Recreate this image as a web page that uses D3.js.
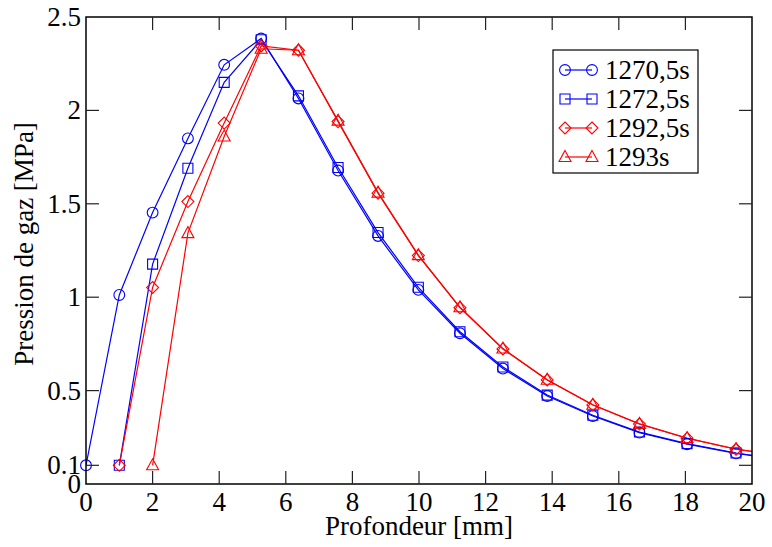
<!DOCTYPE html>
<html><head><meta charset="utf-8">
<script src="https://cdn.jsdelivr.net/npm/d3@7"></script>
<style>body{margin:0;background:#fff}svg{display:block}</style>
</head><body>
<script>
// Depth positions (mm)
const depth = [0, 1, 2, 3.06, 4.15, 5.26, 6.38, 7.57, 8.77, 9.98, 11.23, 12.52, 13.85, 15.22, 16.62, 18.05, 19.52, 20.95];
const seriesNames = ["1270,5s", "1272,5s", "1292,5s", "1293s"];
const p1270 = [0.1, 1.012, 1.453, 1.85, 2.244, 2.385, 2.064, 1.678, 1.328, 1.039, 0.807, 0.618, 0.471, 0.364, 0.275, 0.213, 0.164, 0.128];
const p1272 = [null, 0.1, 1.177, 1.69, 2.15, 2.378, 2.078, 1.694, 1.346, 1.053, 0.815, 0.626, 0.476, 0.368, 0.278, 0.216, 0.166, 0.13];
const p1292 = [null, 0.1, 1.052, 1.512, 1.932, 2.345, 2.322, 1.94, 1.557, 1.223, 0.944, 0.723, 0.557, 0.423, 0.321, 0.245, 0.186, 0.15];
const p1293 = [null, null, 0.1, 1.343, 1.86, 2.33, 2.322, 1.945, 1.56, 1.225, 0.946, 0.725, 0.558, 0.424, 0.322, 0.246, 0.187, 0.151];
const xTicks = [0, 2, 4, 6, 8, 10, 12, 14, 16, 18, 20];
const yTicks = [0, 0.1, 0.5, 1, 1.5, 2, 2.5];
const yTickLabels = ["0", "0.1", "0.5", "1", "1.5", "2", "2.5"];
const colors = ["#0000ff", "#0000ff", "#ff0000", "#ff0000"];
const shapes = ["circle", "square", "diamond", "triangle"];

const W = 772, H = 547;
const m = {l: 86, r: 20, t: 17, b: 63};
const svg = d3.select("body").append("svg").attr("width", W).attr("height", H);
const x = d3.scaleLinear().domain([0, 20]).range([m.l, W - m.r]);
const y = d3.scaleLinear().domain([0, 2.5]).range([H - m.b, m.t]);
const font = "'Times New Roman', 'Liberation Serif', Times, serif";

svg.append("defs").append("clipPath").attr("id", "clip")
  .append("rect").attr("x", x(0)).attr("y", y(2.5)).attr("width", x(20) - x(0)).attr("height", y(0) - y(2.5));

function marker(g, shape, cx, cy, color) {
  const s = g.append("path").attr("fill", "none").attr("stroke", color).attr("stroke-width", 1.1);
  let d;
  if (shape === "circle") d = d3.symbol(d3.symbolCircle, Math.PI * 5.4 * 5.4)();
  else if (shape === "square") d = d3.symbol(d3.symbolSquare, 10 * 10)();
  else if (shape === "diamond") d = "M0,-6L6,0L0,6L-6,0Z";
  else d = "M0,-6.5L6,4.5L-6,4.5Z";
  s.attr("d", d).attr("transform", `translate(${cx},${cy})`);
}

const plot = svg.append("g").attr("clip-path", "url(#clip)");
const allSeries = [p1270, p1272, p1292, p1293];
const line = d3.line().defined(d => d[1] != null).x(d => x(d[0])).y(d => y(d[1]));
allSeries.forEach((vals, i) => {
  const pts = depth.map((dx, j) => [dx, vals[j]]).filter(d => d[1] != null);
  plot.append("path").datum(pts).attr("d", line).attr("fill", "none")
    .attr("stroke", colors[i]).attr("stroke-width", 1.2);
});
allSeries.forEach((vals, i) => {
  depth.forEach((dx, j) => {
    if (vals[j] != null && dx <= 20) marker(svg, shapes[i], x(dx), y(vals[j]), colors[i]);
  });
});

// Frame
svg.append("rect").attr("x", x(0)).attr("y", y(2.5)).attr("width", x(20) - x(0)).attr("height", y(0) - y(2.5))
  .attr("fill", "none").attr("stroke", "#000").attr("stroke-width", 1.5);

// Ticks (inward)
const tl = 13;
const tg = svg.append("g").attr("stroke", "#222").attr("stroke-width", 1.2);
xTicks.filter(t => t > 0 && t < 20).forEach(t => {
  tg.append("line").attr("x1", x(t)).attr("x2", x(t)).attr("y1", y(0)).attr("y2", y(0) - tl);
  tg.append("line").attr("x1", x(t)).attr("x2", x(t)).attr("y1", y(2.5)).attr("y2", y(2.5) + tl);
});
yTicks.filter(t => t > 0 && t < 2.5).forEach(t => {
  tg.append("line").attr("x1", x(0)).attr("x2", x(0) + tl).attr("y1", y(t)).attr("y2", y(t));
  tg.append("line").attr("x1", x(20)).attr("x2", x(20) - tl).attr("y1", y(t)).attr("y2", y(t));
});

// Tick labels
const fs = 27;
xTicks.forEach(t => {
  svg.append("text").attr("x", x(t)).attr("y", y(0) + 27).attr("text-anchor", "middle")
    .attr("font-family", font).attr("font-size", fs).text(t);
});
yTicks.forEach((t, i) => {
  svg.append("text").attr("x", x(0) - 5).attr("y", y(t) + 9).attr("text-anchor", "end")
    .attr("font-family", font).attr("font-size", fs).text(yTickLabels[i]);
});

// Axis titles
svg.append("text").attr("x", (x(0) + x(20)) / 2).attr("y", 535).attr("text-anchor", "middle")
  .attr("font-family", font).attr("font-size", 27).text("Profondeur [mm]");
svg.append("text").attr("transform", `translate(33,244) rotate(-90)`).attr("text-anchor", "middle")
  .attr("font-family", font).attr("font-size", 27).text("Pression de gaz [MPa]");

// Legend
const lg = svg.append("g");
lg.append("rect").attr("x", 553).attr("y", 50).attr("width", 145).attr("height", 123)
  .attr("fill", "#fff").attr("stroke", "#000").attr("stroke-width", 1.2);
seriesNames.forEach((nm, i) => {
  const cy = 70 + i * 29;
  lg.append("line").attr("x1", 565).attr("x2", 592).attr("y1", cy).attr("y2", cy)
    .attr("stroke", colors[i]).attr("stroke-width", 1.2);
  marker(lg, shapes[i], 565, cy, colors[i]);
  marker(lg, shapes[i], 592, cy, colors[i]);
  lg.append("text").attr("x", 605).attr("y", cy + 9).attr("font-family", font).attr("font-size", 27).text(nm);
});
</script>
</body></html>
